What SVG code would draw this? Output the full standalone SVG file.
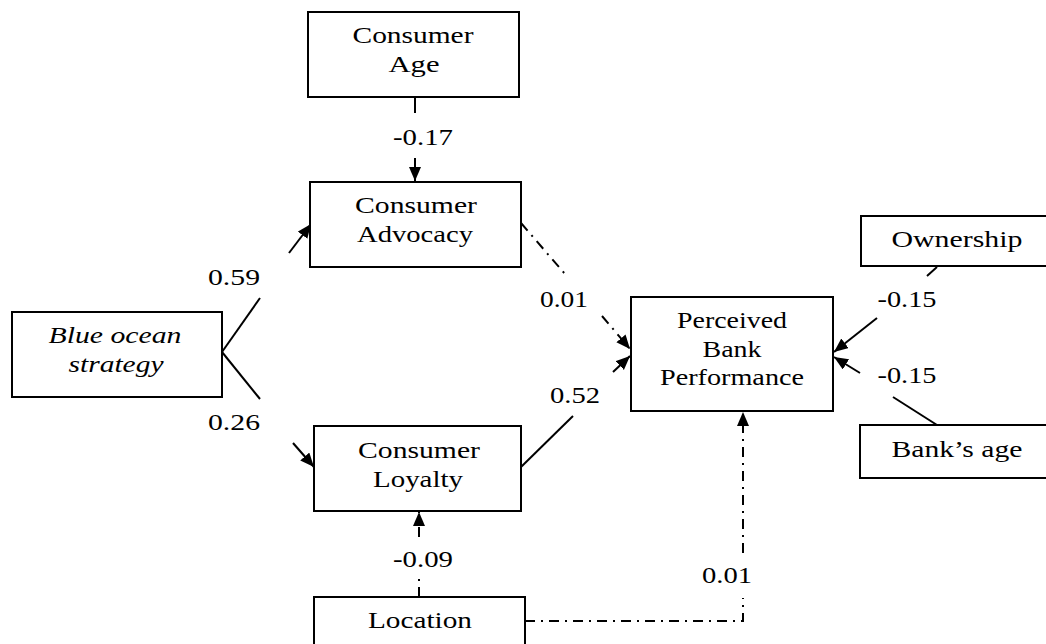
<svg xmlns="http://www.w3.org/2000/svg" width="1046" height="644" viewBox="0 0 1046 644">
<style>
.box{fill:#fff;stroke:#000;stroke-width:2}
.t{font-family:"Liberation Serif","Times New Roman",serif;font-size:24px;fill:#000;text-anchor:middle}
.i{font-style:italic}
.c{stroke:#000;stroke-width:2;fill:none}
.d{stroke-dasharray:10 6 2 6}
</style>
<defs>
<marker id="ah" markerWidth="15" markerHeight="13" refX="14" refY="6" orient="auto" markerUnits="userSpaceOnUse">
<path d="M0,0 L14,6 L0,12 Z" fill="#000"/>
</marker>
</defs>
<rect width="1046" height="644" fill="#fff"/>
<g id="connectors">
<line class="c" x1="415" y1="97" x2="415" y2="113"/>
<line class="c" x1="415" y1="158" x2="415" y2="181" marker-end="url(#ah)"/>
<line class="c" x1="222" y1="352" x2="260" y2="298"/>
<line class="c" x1="289" y1="253" x2="311" y2="224" marker-end="url(#ah)"/>
<line class="c" x1="222" y1="352" x2="260" y2="399"/>
<line class="c" x1="293" y1="443" x2="314" y2="467" marker-end="url(#ah)"/>
<line class="c d" x1="521" y1="223" x2="565" y2="274"/>
<line class="c d" x1="602" y1="316" x2="630" y2="349" marker-end="url(#ah)"/>
<line class="c" x1="521" y1="467" x2="573" y2="416"/>
<line class="c" x1="613" y1="372" x2="630" y2="356" marker-end="url(#ah)"/>
<line class="c" x1="937" y1="267" x2="927" y2="276"/>
<line class="c" x1="877" y1="318" x2="834" y2="352" marker-end="url(#ah)"/>
<line class="c" x1="937" y1="425" x2="893" y2="397"/>
<line class="c" x1="860" y1="373" x2="834" y2="357" marker-end="url(#ah)"/>
<line class="c d" x1="419" y1="597" x2="419" y2="577"/>
<line class="c d" x1="419" y1="537" x2="419" y2="512" marker-end="url(#ah)"/>
<polyline class="c d" points="525,621 743,621 743,598"/>
<line class="c d" x1="743" y1="553" x2="743" y2="412" marker-end="url(#ah)"/>
</g>
<g id="labels">
<text class="t" x="423" y="145" textLength="60" lengthAdjust="spacingAndGlyphs">-0.17</text>
<text class="t" x="234" y="285" textLength="52" lengthAdjust="spacingAndGlyphs">0.59</text>
<text class="t" x="234" y="430" textLength="52" lengthAdjust="spacingAndGlyphs">0.26</text>
<text class="t" x="564" y="307" textLength="48" lengthAdjust="spacingAndGlyphs">0.01</text>
<text class="t" x="575" y="403" textLength="50" lengthAdjust="spacingAndGlyphs">0.52</text>
<text class="t" x="907" y="307" textLength="59" lengthAdjust="spacingAndGlyphs">-0.15</text>
<text class="t" x="907" y="383" textLength="59" lengthAdjust="spacingAndGlyphs">-0.15</text>
<text class="t" x="423" y="567" textLength="60" lengthAdjust="spacingAndGlyphs">-0.09</text>
<text class="t" x="727" y="583" textLength="50" lengthAdjust="spacingAndGlyphs">0.01</text>
</g>
<g id="consumer-age">
<rect class="box" x="308" y="12" width="211" height="85"/>
<text class="t" x="413" y="43" textLength="121" lengthAdjust="spacingAndGlyphs">Consumer</text>
<text class="t" x="414" y="72" textLength="51" lengthAdjust="spacingAndGlyphs">Age</text>
</g>
<g id="consumer-advocacy">
<rect class="box" x="310" y="182" width="211" height="85"/>
<text class="t" x="416" y="213" textLength="122" lengthAdjust="spacingAndGlyphs">Consumer</text>
<text class="t" x="415" y="242" textLength="116" lengthAdjust="spacingAndGlyphs">Advocacy</text>
</g>
<g id="blue-ocean-strategy">
<rect class="box" x="12" y="312" width="210" height="85"/>
<text class="t i" x="115" y="343" textLength="133" lengthAdjust="spacingAndGlyphs">Blue ocean</text>
<text class="t i" x="116" y="372" textLength="95" lengthAdjust="spacingAndGlyphs">strategy</text>
</g>
<g id="consumer-loyalty">
<rect class="box" x="314" y="426" width="207" height="85"/>
<text class="t" x="419" y="458" textLength="122" lengthAdjust="spacingAndGlyphs">Consumer</text>
<text class="t" x="418" y="487" textLength="90" lengthAdjust="spacingAndGlyphs">Loyalty</text>
</g>
<g id="location">
<rect class="box" x="314" y="597" width="211" height="70"/>
<text class="t" x="420" y="628" textLength="104" lengthAdjust="spacingAndGlyphs">Location</text>
</g>
<g id="perceived-bank-performance">
<rect class="box" x="631" y="297" width="202" height="114"/>
<text class="t" x="732" y="328" textLength="110" lengthAdjust="spacingAndGlyphs">Perceived</text>
<text class="t" x="732" y="357" textLength="59" lengthAdjust="spacingAndGlyphs">Bank</text>
<text class="t" x="732" y="385" textLength="144" lengthAdjust="spacingAndGlyphs">Performance</text>
</g>
<g id="ownership">
<rect class="box" x="861" y="216" width="200" height="50"/>
<text class="t" x="957" y="247" textLength="131" lengthAdjust="spacingAndGlyphs">Ownership</text>
</g>
<g id="banks-age">
<rect class="box" x="860" y="425" width="200" height="53"/>
<text class="t" x="957" y="457" textLength="131" lengthAdjust="spacingAndGlyphs">Bank’s age</text>
</g>
</svg>
